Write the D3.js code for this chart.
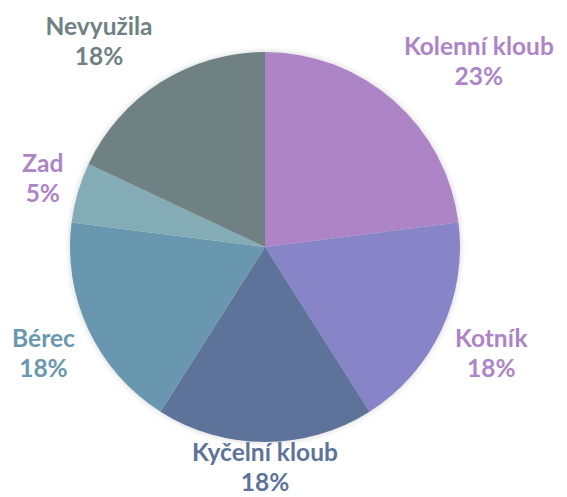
<!DOCTYPE html>
<html>
<head>
<meta charset="utf-8">
<script src="https://cdn.jsdelivr.net/npm/d3@7"></script>
<style>
  html, body { margin: 0; padding: 0; background: #ffffff; }
  svg { display: block; }
  .lbl { font-family: Lato, "Open Sans", sans-serif; font-weight: 700; font-size: 24.5px; }
</style>
</head>
<body>
<div id="chart"></div>
<script>
// data
var categories = ["Kolenní kloub", "Kotník", "Kyčelní kloub", "Bérec", "Zad", "Nevyužila"];
var shares = [23, 18, 18, 18, 5, 18];
var sliceColors = ["#AD84C6", "#8784C7", "#5D739A", "#6997AF", "#84ACB6", "#6F8183"];
var labelColors = ["#AD84C6", "#AD84C6", "#5D739A", "#6997AF", "#AD84C6", "#6F8183"];

var width = 567
var height = 497
var cx = 265, cy = 247
var radius = 195
var gap = 15 // space between pie edge and label box
var lineGap = 30

var svg = d3.select("#chart").append("svg")
    .attr("width", width)
    .attr("height", height)

// soft shadow round the pie, like the office chart
var defs = svg.append("defs");
var filt = defs.append("filter")
    .attr("id", "shadow")
    .attr("x", "-10%").attr("y", "-10%")
    .attr("width", "120%").attr("height", "120%");
filt.append("feDropShadow")
    .attr("dx", 0).attr("dy", 0)
    .attr("stdDeviation", 3)
    .attr("flood-color", "#000")
    .attr("flood-opacity", 0.18);

var rows = categories.map(function (c, i) {
    return { name: c, value: shares[i], color: sliceColors[i], labelColor: labelColors[i] };
});

var pie = d3.pie()
    .sort(null)
    .value(function (d) { return d.value; });

var arc = d3.arc()
    .innerRadius(0)
    .outerRadius(radius);

var arcs = pie(rows);
var total = d3.sum(shares);
var pct = d3.format(".0%");

var g = svg.append("g")
    .attr("transform", "translate(" + cx + "," + cy + ")");

g.append("g")
    .attr("filter", "url(#shadow)")
    .selectAll("path")
    .data(arcs)
    .enter().append("path")
    .attr("d", arc)
    .attr("fill", function (d) { return d.data.color; });

// labels outside end: box pushed off the rim along the mid ray
var labelArc = d3.arc()
    .innerRadius(radius + gap)
    .outerRadius(radius + gap);

function clamp(v) { return Math.max(-1, Math.min(1, v)); }

var labels = svg.append("g").selectAll("text")
    .data(arcs)
    .enter().append("text")
    .attr("class", "lbl")
    .attr("text-anchor", "middle")
    .attr("fill", function (d) { return d.data.labelColor; });

labels.append("tspan")
    .attr("x", 0).attr("dy", 0)
    .text(function (d) { return d.data.name; });
labels.append("tspan")
    .attr("x", 0).attr("dy", lineGap)
    .text(function (d) { return pct(d.data.value / total); });

labels.each(function (d) {
    var node = d3.select(this);
    var bb = this.getBBox();
    var mid = (d.startAngle + d.endAngle) / 2;
    var p = labelArc.centroid({ startAngle: mid, endAngle: mid });
    var bx = cx + p[0] + bb.width / 2 * clamp(3 * Math.sin(mid));
    var by = cy + p[1] - bb.height / 2 * clamp(1.3 * Math.cos(mid));
    bx = Math.max(bb.width / 2 + 2, Math.min(width - bb.width / 2 - 2, bx));
    var tx = bx - (bb.x + bb.width / 2);
    var ty = by - (bb.y + bb.height / 2);
    // last baseline (digits only) stays a little above the bottom edge
    ty = Math.min(ty, height - 6 - lineGap);
    node.attr("transform", "translate(" + tx + "," + ty + ")");
});
</script>
</body>
</html>
